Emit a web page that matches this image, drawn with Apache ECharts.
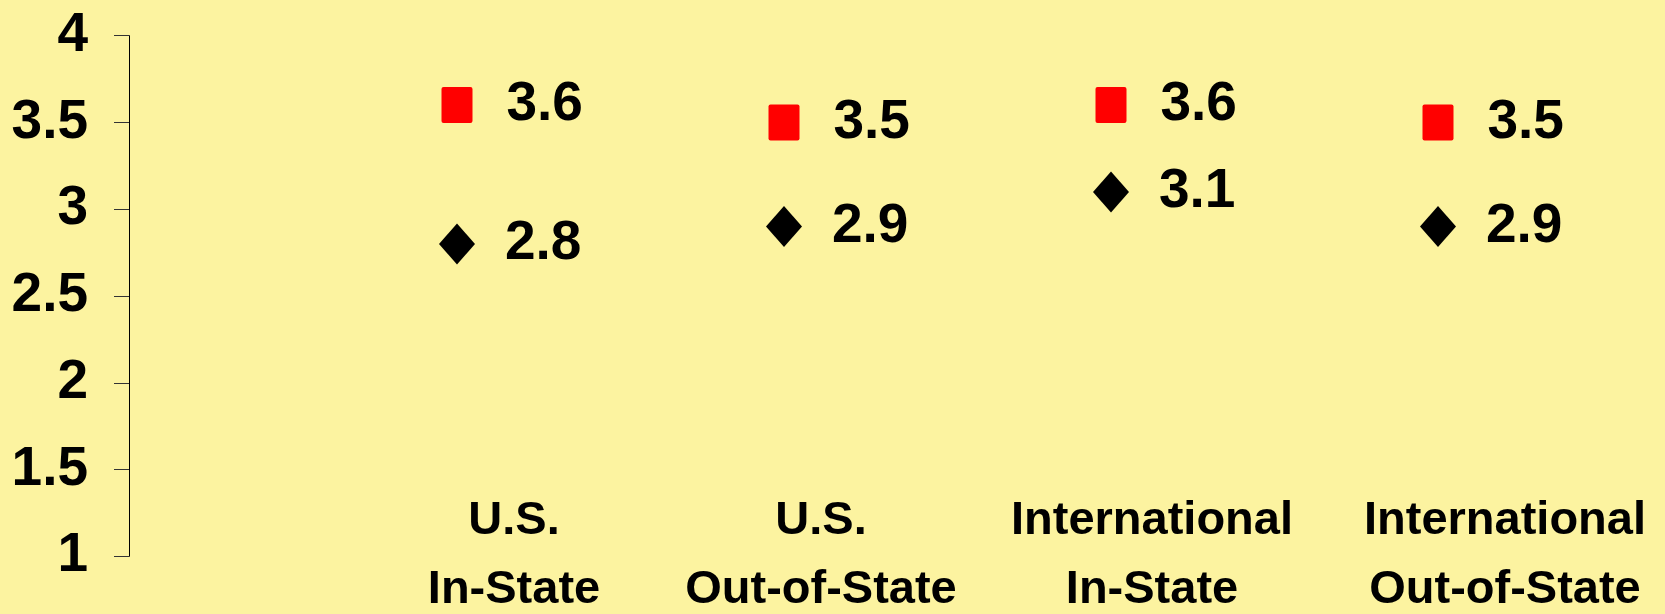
<!DOCTYPE html>
<html>
<head>
<meta charset="utf-8">
<script src="https://cdn.jsdelivr.net/npm/echarts@6/dist/echarts.min.js"></script>
<style>
  html, body { margin: 0; padding: 0; background: #fcf3a0; }
  #main { width: 1665px; height: 614px; }
</style>
</head>
<body>
<div id="main"></div>
<script>
// data
var categories = ['U.S.\nIn-State', 'U.S.\nOut-of-State', 'International\nIn-State', 'International\nOut-of-State'];
var redValues = [3.6, 3.5, 3.6, 3.5];
var blackValues = [2.8, 2.9, 3.1, 2.9];
var yMin = 1, yMax = 4, yStep = 0.5;

// small horizontal nudges for the category text boxes
var labelShift = [11, -12, -11, 12];

var font = '"Liberation Sans", Arial, sans-serif';

var rich = {};
labelShift.forEach(function (s, i) {
  rich['c' + i] = {
    fontFamily: font, fontWeight: 'bold', fontSize: 47, lineHeight: 69, color: '#000',
    padding: s > 0 ? [0, 0, 0, 2 * s] : [0, -2 * s, 0, 0]
  };
});

// square with only slightly rounded corners
var squareSymbol = 'path://M2,0 H28 Q30,0 30,2 V34 Q30,36 28,36 H2 Q0,36 0,34 V2 Q0,0 2,0 Z';

var chart = echarts.init(document.getElementById('main'));

var option = {
  backgroundColor: '#fcf3a0',
  animation: false,
  grid: [
    { left: 293.5, width: 1308, top: 35.7, bottom: 57.7 },
    { left: 338, width: 1320, top: 20, bottom: 123 }
  ],
  xAxis: [
    {
      type: 'category', gridIndex: 0, data: categories,
      axisLine: { show: false }, axisTick: { show: false }, axisLabel: { show: false },
      splitLine: { show: false }
    },
    {
      type: 'category', gridIndex: 1, data: categories,
      axisLine: { show: false }, axisTick: { show: false }, splitLine: { show: false },
      axisLabel: {
        interval: 0, margin: 0, rich: rich,
        formatter: function (v, i) {
          return v.split('\n').map(function (t) { return '{c' + i + '|' + t + '}'; }).join('\n');
        }
      }
    }
  ],
  yAxis: [
    {
      type: 'value', gridIndex: 0, min: yMin, max: yMax, interval: yStep, offset: 164.5,
      axisLine: { show: true, lineStyle: { color: '#000', width: 1 } },
      axisTick: { show: true, length: 15, lineStyle: { color: '#333' } },
      splitLine: { show: false },
      axisLabel: {
        margin: 41, color: '#000', fontFamily: font, fontWeight: 'bold', fontSize: 55,
        padding: [0, 0, 8, 0]
      }
    },
    { type: 'value', gridIndex: 1, min: 0, max: 1, show: false }
  ],
  series: [
    {
      type: 'scatter', xAxisIndex: 0, yAxisIndex: 0, data: redValues,
      symbol: squareSymbol, symbolSize: [31, 36], symbolKeepAspect: false,
      itemStyle: { color: '#ff0000', opacity: 1 },
      label: {
        show: true, position: 'right', distance: 34, offset: [0, 0],
        color: '#000', opacity: 1, fontFamily: font, fontWeight: 'bold', fontSize: 55
      }
    },
    {
      type: 'scatter', xAxisIndex: 0, yAxisIndex: 0, data: blackValues,
      symbol: 'diamond', symbolSize: [36, 41],
      itemStyle: { color: '#000', opacity: 1 },
      label: {
        show: true, position: 'right', distance: 30, offset: [0, 0],
        color: '#000', opacity: 1, fontFamily: font, fontWeight: 'bold', fontSize: 55
      }
    }
  ]
};

chart.setOption(option);
</script>
</body>
</html>
